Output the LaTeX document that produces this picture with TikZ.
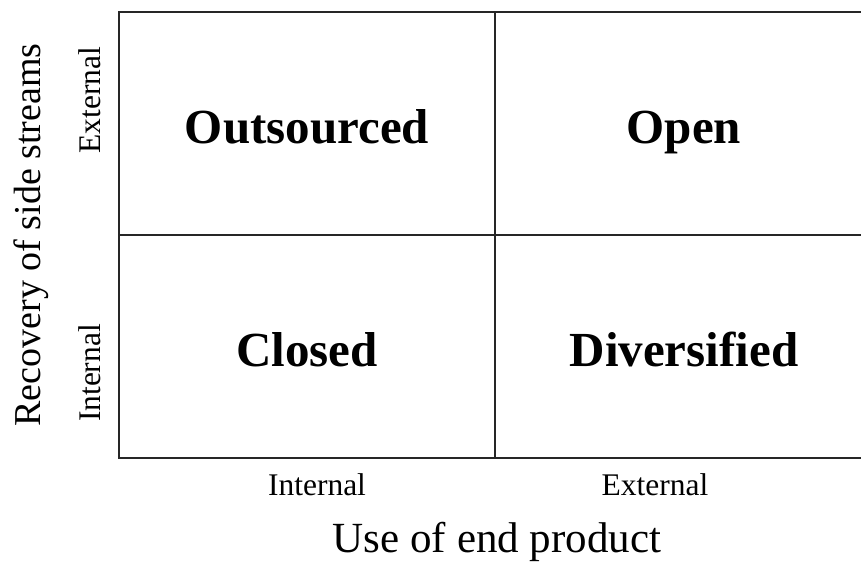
\documentclass[tikz,border=0pt]{standalone}
\usepackage{fontspec}
\setmainfont{Liberation Serif}
\tikzset{
  grid/.style={line width=1.5pt, draw=black!85},
  quad/.style={font=\fontsize{49}{55}\selectfont\bfseries, anchor=base, inner sep=0pt},
  tick/.style={font=\fontsize{31.5}{36}\selectfont, anchor=base, inner sep=0pt},
  axis/.style={font=\fontsize{43}{48}\selectfont, anchor=base, inner sep=0pt},
}
\begin{document}
\begin{tikzpicture}[x=1pt,y=-1pt]
\useasboundingbox (0,0) rectangle (861,563);
% grid
\coordinate (tl) at (119,12);
\coordinate (tr) at (870,12);
\coordinate (bl) at (119,458);
\coordinate (br) at (870,458);
\coordinate (tm) at (495,12);
\coordinate (bm) at (495,458);
\coordinate (ml) at (119,235);
\coordinate (mr) at (870,235);
\draw[grid] (tr) -- (tl) -- (bl) -- (br);
\draw[grid] (tm) -- (bm);
\draw[grid] (ml) -- (mr);
% quadrant labels
\node[quad] (outs) at (307,143) {Outsourced};
\node[quad] (open) at (684,143) {Open};
\node[quad] (clos) at (307,366) {Closed};
\node[quad] (dive) at (684,366) {Diversified};
% x ticks
\node[tick] (xint) at (317,495) {Internal};
\node[tick] (xext) at (655,495) {External};
\node[axis] (xlab) at (497,552) {Use of end product};
% y ticks
\node[tick, rotate=90] (yext) at (100,100) {External};
\node[tick, rotate=90] (yint) at (100,373) {Internal};
\node[axis, font=\fontsize{38}{44}\selectfont, rotate=90] (ylab) at (40,235) {Recovery of side streams};
\end{tikzpicture}
\end{document}
